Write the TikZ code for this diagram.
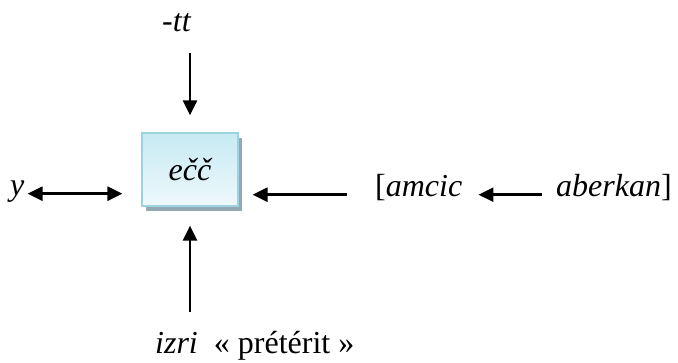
\documentclass[tikz,border=0pt]{standalone}
\usepackage{fontspec}
\setmainfont{Liberation Serif}[ItalicFont={Liberation Serif Italic}]
\usepackage{tikz}
\usetikzlibrary{arrows.meta, positioning, shadows}
\definecolor{boxtop}{HTML}{C6EAF3}
\definecolor{boxbot}{HTML}{EEF8FB}
\definecolor{boxline}{HTML}{9CD3E0}
\definecolor{boxshade}{HTML}{93A9B3}
\tikzset{
    morph/.style = {rectangle, minimum width=96pt, minimum height=73pt, draw=boxline, line width=1.2pt, top color=boxtop, bottom color=boxbot, drop shadow={shadow xshift=4pt, shadow yshift=-5pt, fill=boxshade, opacity=1}},
    word/.style = {inner sep=0pt},
    arrow/.style = {line width=2.6pt, -{Triangle[length=15pt, width=14pt]}},
    dblarrow/.style = {line width=2.6pt, {Triangle[length=15pt, width=14pt]}-{Triangle[length=15pt, width=14pt]}}
}
\begin{document}
\begin{tikzpicture}[x=1pt, y=-1pt, font=\fontsize{32}{38}\selectfont]
    \useasboundingbox (0,0) rectangle (678,363);
    % Nodos
    \node (ecc) [morph] at (190,169.5) {\itshape e\v{c}\v{c}\hspace{10pt}};
    \node (tt) [word, anchor=base west] at (162,32) {\itshape -tt};
    \node (y) [word, anchor=base west] at (10,196) {\itshape y};
    \node (amcic) [word, anchor=base west] at (375,197) {[\textit{amcic}};
    \node (aberkan) [word, anchor=base west] at (556,197) {\textit{aberkan}]};
    \node (izri) [word, anchor=base west] at (155,354) {\textit{izri}~ « prétérit »};

    % Flechas
    \draw [arrow, shorten <=20pt, shorten >=17pt] (ecc.north |- tt.south) -- (ecc.north);
    \draw [arrow, shorten <=20pt, shorten >=19pt] (ecc.south |- izri.north) -- (ecc.south);
    \draw [dblarrow, shorten <=3pt, shorten >=19pt] (y.mid east) -- (ecc.west |- y.mid east);
    \draw [arrow, shorten <=28pt, shorten >=14pt] (amcic.mid west) -- (ecc.east |- amcic.mid west);
    \draw [arrow, shorten <=14pt, shorten >=16pt] (aberkan.mid west) -- (amcic.mid east);
\end{tikzpicture}
\end{document}
